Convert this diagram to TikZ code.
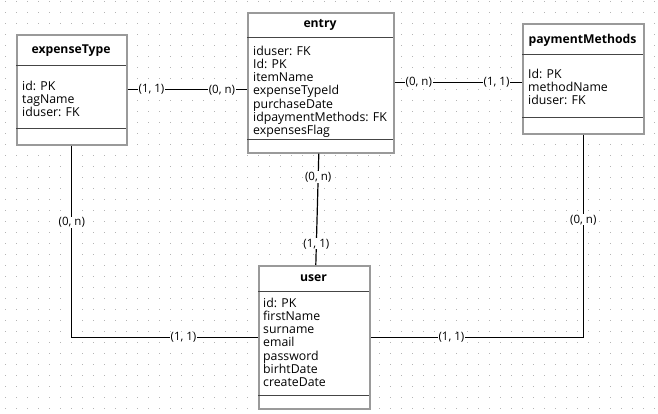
\documentclass[tikz,border=0pt]{standalone}
\usepackage{fontspec}
\setmainfont{Open Sans}
\definecolor{boxgray}{HTML}{9A9A9A}
\definecolor{sepgray}{HTML}{454545}
\definecolor{dotgray}{HTML}{B4B4B4}
\begin{document}
\begin{tikzpicture}[x=1pt,y=-1pt,
  ent/.style={draw=boxgray, line width=1.6pt, fill=white, inner sep=0, anchor=north west},
  ttl/.style={font=\fontsize{12.2}{14}\selectfont\bfseries, inner sep=0},
  attr/.style={font=\fontsize{12.3}{13.25}\selectfont, align=left, anchor=north west, inner sep=0},
  sep/.style={draw=sepgray, line width=0.8pt},
  conn/.style={draw=black, line width=1.2pt},
  card/.style={font=\fontsize{11.5}{13}\selectfont, fill=white, inner sep=0.6pt}]
\useasboundingbox (0,0) rectangle (658,413);
\fill[white] (0,0) rectangle (658,413);
\foreach \i in {0,...,59} \foreach \j in {0,...,37}
  \fill[dotgray] ({5.3+11*\i-0.5},{1.7+11*\j-0.5}) rectangle ++(1,1);

% expenseType
\node[ent, minimum width=110pt, minimum height=110pt] (et) at (16,34) {};
\draw[sep] (16,65) -- (126,65);
\draw[sep] (16,128) -- (126,128);
\node[ttl] (ett) at (71,50.5) {expenseType};
\node[attr] (eta) at (22,80.5) {id: PK\\tagName\\iduser: FK};

% entry
\node[ent, minimum width=146pt, minimum height=140pt] (en) at (247,12) {};
\draw[sep] (247,37) -- (393,37);
\draw[sep] (247,139) -- (393,139);
\node[ttl] (ent) at (320,25) {entry};
\node[attr] (ena) at (253,45.5) {iduser: FK\\Id: PK\\itemName\\expenseTypeId\\purchaseDate\\idpaymentMethods: FK\\expensesFlag};

% paymentMethods
\node[ent, minimum width=121pt, minimum height=110pt] (pm) at (522,23) {};
\draw[sep] (522,54) -- (643,54);
\draw[sep] (522,117) -- (643,117);
\node[ttl] (pmt) at (582.5,40) {paymentMethods};
\node[attr] (pma) at (528,68.5) {Id: PK\\methodName\\iduser: FK};

% user
\node[ent, minimum width=111pt, minimum height=143pt] (us) at (258,265) {};
\draw[sep] (258,291) -- (369,291);
\draw[sep] (258,395) -- (369,395);
\node[ttl] (ust) at (313.5,278) {user};
\node[attr] (usa) at (263,297.5) {id: PK\\firstName\\surname\\email\\password\\birhtDate\\createDate};

% connectors
\coordinate (pmw) at ([yshift=-3.5pt]pm.west);
\draw[conn] (et.east) -- (et.east -| en.west)
  node[card, pos=0.2] {(1, 1)} node[card, pos=0.79] {(0, n)};
\draw[conn] (en.east |- pmw) -- (pmw)
  node[card, pos=0.19] {(0, n)} node[card, pos=0.8] {(1, 1)};
\draw[conn] ([xshift=-2pt]en.south) -- ([xshift=1.5pt]us.north)
  node[card, pos=0.21] {(0, n)} node[card, pos=0.81] {(1, 1)};
\draw[conn] (et.south) |- (us.west)
  node[card, pos=0.2] {(0, n)} node[card, pos=0.8] {(1, 1)};
\draw[conn] (pm.south) |- (us.east)
  node[card, pos=0.21] {(0, n)} node[card, pos=0.81] {(1, 1)};
\end{tikzpicture}
\end{document}
